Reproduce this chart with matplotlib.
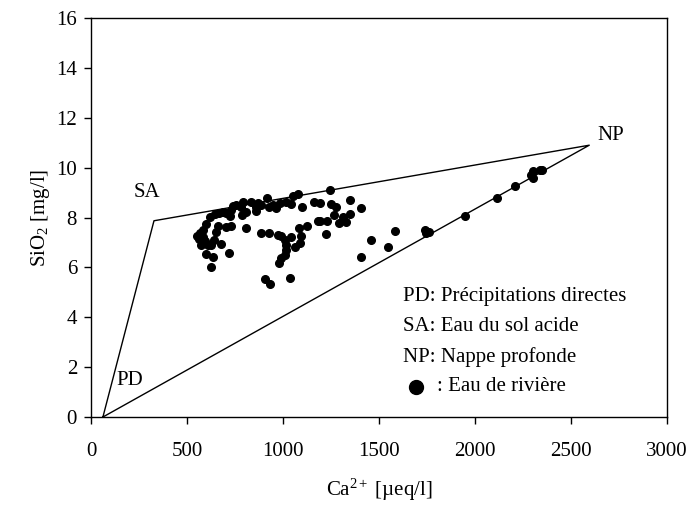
import numpy as np
import matplotlib
matplotlib.use("Agg")
import matplotlib.pyplot as plt

plt.rcParams['font.family'] = ['Liberation Serif', 'DejaVu Serif']
plt.rcParams['mathtext.fontset'] = 'custom'
plt.rcParams['mathtext.rm'] = 'Liberation Serif'
plt.rcParams['mathtext.it'] = 'Liberation Serif:italic'

# end members of the mixing triangle
members = ["PD", "SA", "NP"]
member_ca = [62, 328, 2595]
member_si = [0.0, 7.87, 10.9]

# river water samples
river_ca = [622, 645, 667, 688, 702, 723, 731, 740, 757, 783, 792, 809, 788, 832,
            861, 870, 861, 887, 917, 927, 948, 962, 983, 1017, 1040, 1052, 1078,
            1099, 1159, 1182, 598, 584, 567, 553, 563, 581, 593, 575, 610, 640,
            627, 662, 653, 705, 728, 676, 809, 887, 927, 974, 991, 1009, 1014,
            1017, 1009, 991, 979, 1043, 1083, 1125, 1095, 1087, 1061, 601, 633,
            719, 627, 905, 934, 1035,
            1246, 1194, 1251, 1274, 1347, 1407, 1265, 1312, 1347, 1194, 1230,
            1291, 1329, 1222, 1407, 1456, 1546, 1584, 1738, 1745, 1762,
            1950, 2113, 2208, 2290, 2301, 2301, 2336, 2350]
river_si = [8.03, 8.14, 8.19, 8.23, 8.17, 8.06, 8.30, 8.46, 8.50, 8.41, 8.63, 8.23,
            8.10, 8.63, 8.43, 8.57, 8.27, 8.50, 8.77, 8.43, 8.50, 8.37, 8.59, 8.63,
            8.54, 8.86, 8.93, 8.41, 8.63, 7.86, 7.74, 7.50, 7.36, 7.26, 7.12, 7.20,
            7.07, 6.90, 6.90, 7.10, 6.90, 7.66, 7.43, 7.61, 7.66, 6.92, 7.56, 7.39,
            7.39, 7.30, 7.26, 7.10, 6.90, 6.70, 6.50, 6.36, 6.19, 7.20, 7.56, 7.66,
            7.26, 6.99, 6.80, 6.54, 6.43, 6.59, 6.03, 5.52, 5.33, 5.57,
            9.10, 8.59, 8.54, 8.43, 8.70, 8.37, 8.10, 8.03, 8.14, 7.86, 7.86,
            7.79, 7.81, 7.34, 6.43, 7.10, 6.83, 7.46, 7.48, 7.38, 7.42,
            8.07, 8.77, 9.26, 9.72, 9.85, 9.58, 9.92, 9.89]

legend_lines = ["PD: Précipitations directes", "SA: Eau du sol acide",
                "NP: Nappe profonde"]

FS = 15

fig = plt.figure(figsize=(6.91, 5.09), dpi=100)
ax = fig.add_axes([0.1317, 0.1807, 0.8336, 0.7839])

tri_x = member_ca + [member_ca[0]]
tri_y = member_si + [member_si[0]]
ax.plot(tri_x, tri_y, color="black", lw=1.0)
ax.plot(river_ca, river_si, "o", color="black", ms=5.5, mec="black")

ax.text(293, 9.02, "SA", fontsize=FS, ha="center", va="center")
ax.text(201, 1.46, "PD", fontsize=FS, ha="center", va="center")
ax.text(2709, 11.28, "NP", fontsize=FS, ha="center", va="center")

for i, line in enumerate(legend_lines):
    ax.text(1625, 4.84 - i * 1.21, line, fontsize=FS, ha="left", va="center")
ax.plot([1695], [1.22], "o", color="black", ms=10)
ax.text(1800, 1.21, ": Eau de rivière", fontsize=FS, ha="left", va="center")

ax.set_xlim(0, 3000)
ax.set_ylim(0, 16)
ax.set_xticks(np.arange(0, 3001, 500))
ax.set_yticks(np.arange(0, 17, 2))
ax.tick_params(direction="out", length=5, width=1, labelsize=FS, pad=5)
ax.tick_params(axis="x", pad=13)
for s in ax.spines.values():
    s.set_linewidth(1.0)

ax.set_xlabel("Ca$^{2+}$ [µeq/l]", fontsize=FS, labelpad=11)
ax.set_ylabel("SiO$_2$ [mg/l]", fontsize=FS, labelpad=3)

fig.savefig("out.png", dpi=100)
